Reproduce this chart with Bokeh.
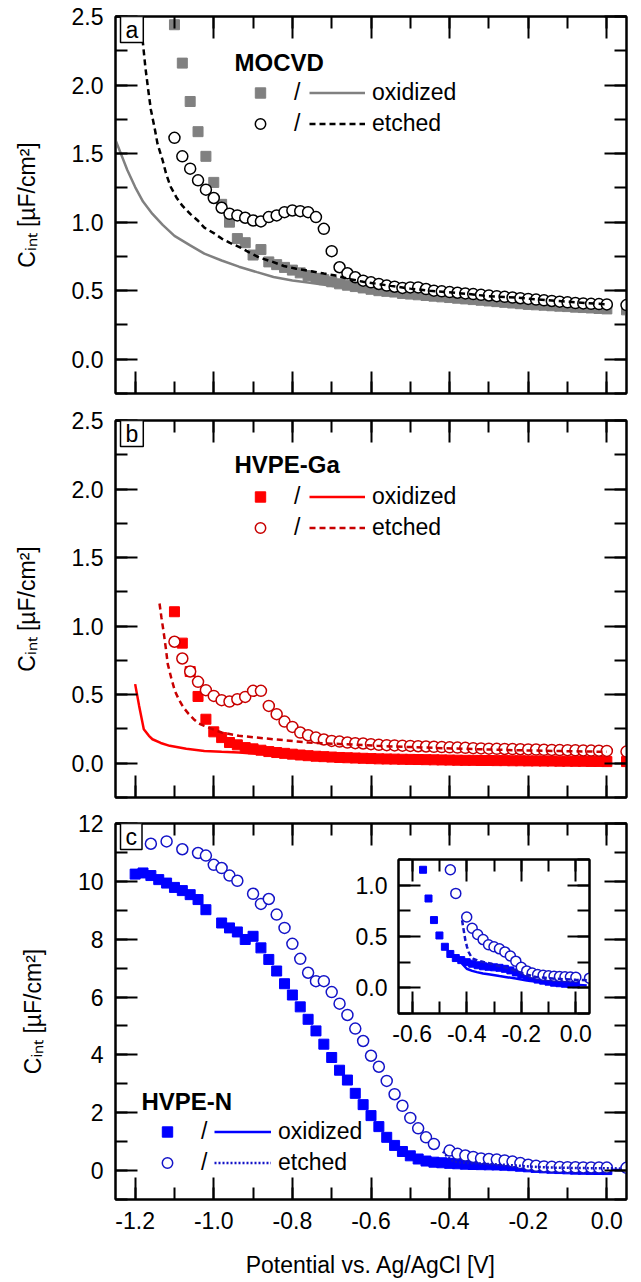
from bokeh.plotting import figure
from bokeh.layouts import column
from bokeh.models import (Range1d, LinearAxis, SingleIntervalTicker, NumeralTickFormatter,
                          Label, Legend, LegendItem)
from bokeh.core.properties import value
from bokeh.embed import file_html
from bokeh.resources import INLINE

FONT = "Liberation Sans"

# ---------------- data ----------------
XA = [-1.10, -1.08, -1.06, -1.04, -1.02, -1.00, -0.98, -0.96, -0.94, -0.92,
      -0.90, -0.88, -0.86, -0.84, -0.82, -0.80, -0.78, -0.76, -0.74, -0.72,
      -0.70, -0.68, -0.66, -0.64, -0.62, -0.60, -0.58, -0.56, -0.54, -0.52,
      -0.50, -0.48, -0.46, -0.44, -0.42, -0.40, -0.38, -0.36, -0.34, -0.32,
      -0.30, -0.28, -0.26, -0.24, -0.22, -0.20, -0.18, -0.16, -0.14, -0.12,
      -0.10, -0.08, -0.06, -0.04, -0.02, 0.00, 0.05]

# panel a (MOCVD)
SQ_A = [2.44, 2.16, 1.88, 1.66, 1.48, 1.29, 1.13, 1.00, 0.88, 0.85,
        0.76, 0.80, 0.71, 0.69, 0.67, 0.65, 0.63, 0.61, 0.59, 0.58,
        0.565, 0.55, 0.54, 0.53, 0.52, 0.51, 0.50, 0.495, 0.49, 0.48,
        0.475, 0.47, 0.465, 0.46, 0.455, 0.45, 0.445, 0.44, 0.435, 0.43,
        0.425, 0.42, 0.415, 0.41, 0.405, 0.40, 0.397, 0.394, 0.39, 0.387,
        0.384, 0.38, 0.377, 0.374, 0.37, 0.367, 0.36]
CI_A = [1.615, 1.48, 1.39, 1.305, 1.237, 1.176, 1.105, 1.061, 1.049, 1.032,
        1.012, 1.005, 1.037, 1.049, 1.073, 1.085, 1.08, 1.073, 1.037, 0.951,
        0.788, 0.671, 0.627, 0.598, 0.573, 0.561, 0.549, 0.537, 0.529, 0.52,
        0.524, 0.524, 0.512, 0.50, 0.495, 0.49, 0.485, 0.48, 0.475, 0.47,
        0.465, 0.46, 0.455, 0.45, 0.445, 0.44, 0.435, 0.43, 0.425, 0.42,
        0.415, 0.41, 0.407, 0.404, 0.402, 0.40, 0.395]
OXL_A_X = [-1.25, -1.22, -1.20, -1.18, -1.156, -1.13, -1.10, -1.06, -1.024, -0.98,
           -0.936, -0.89, -0.848, -0.80, -0.76, -0.70, -0.62, -0.55, -0.45, -0.35,
           -0.25, -0.15, -0.05, 0.0]
OXL_A_Y = [1.60, 1.38, 1.256, 1.15, 1.06, 0.98, 0.90, 0.83, 0.77, 0.72,
           0.675, 0.635, 0.60, 0.575, 0.56, 0.535, 0.51, 0.49, 0.46, 0.435,
           0.415, 0.395, 0.375, 0.366]
ETL_A_X = [-1.19, -1.18, -1.174, -1.167, -1.16, -1.15, -1.143, -1.13, -1.121, -1.11,
           -1.095, -1.08, -1.06, -1.04, -1.024, -1.0, -0.98, -0.96, -0.936, -0.91,
           -0.883, -0.85, -0.822, -0.79, -0.76, -0.72, -0.69, -0.655, -0.62, -0.585,
           -0.55, -0.50, -0.45, -0.41, -0.35, -0.30, -0.234, -0.15, -0.08, 0.0]
ETL_A_Y = [2.55, 2.30, 2.13, 1.97, 1.82, 1.68, 1.57, 1.45, 1.35, 1.26,
           1.18, 1.12, 1.06, 1.01, 0.96, 0.92, 0.88, 0.85, 0.82, 0.78,
           0.74, 0.71, 0.68, 0.66, 0.646, 0.625, 0.61, 0.585, 0.565, 0.55,
           0.535, 0.515, 0.50, 0.49, 0.475, 0.46, 0.45, 0.43, 0.415, 0.40]

# panel b (HVPE-Ga)
SQ_B = [1.105, 0.876, 0.669, 0.487, 0.321, 0.229, 0.187, 0.151, 0.134, 0.114,
        0.105, 0.095, 0.085, 0.078, 0.072, 0.066, 0.060, 0.055, 0.051, 0.048,
        0.045, 0.042, 0.040, 0.038, 0.036, 0.034, 0.032, 0.031, 0.030, 0.029,
        0.028, 0.027, 0.026, 0.025, 0.024, 0.023, 0.022, 0.021, 0.021, 0.020,
        0.020, 0.019, 0.019, 0.018, 0.018, 0.017, 0.017, 0.016, 0.016, 0.015,
        0.015, 0.014, 0.014, 0.013, 0.013, 0.012, 0.012]
CI_B = [0.886, 0.764, 0.669, 0.594, 0.533, 0.491, 0.46, 0.45, 0.467, 0.484,
        0.528, 0.528, 0.418, 0.358, 0.304, 0.265, 0.224, 0.204, 0.187, 0.173,
        0.163, 0.158, 0.151, 0.146, 0.144, 0.139, 0.134, 0.132, 0.130, 0.128,
        0.126, 0.124, 0.122, 0.120, 0.118, 0.116, 0.114, 0.112, 0.110, 0.108,
        0.106, 0.105, 0.104, 0.103, 0.102, 0.101, 0.100, 0.098, 0.097, 0.096,
        0.095, 0.094, 0.093, 0.092, 0.091, 0.090, 0.085]
OXL_B_X = [-1.20, -1.19, -1.178, -1.165, -1.156, -1.135, -1.112, -1.07, -1.024, -0.98,
           -0.936, -0.848, -0.76, -0.67, -0.55, -0.41, -0.25, -0.10, 0.0]
OXL_B_Y = [0.577, 0.42, 0.248, 0.20, 0.175, 0.148, 0.127, 0.105, 0.09, 0.083,
           0.078, 0.061, 0.05, 0.041, 0.032, 0.022, 0.016, 0.012, 0.01]
ETL_B_X = [-1.138, -1.133, -1.128, -1.122, -1.117, -1.108, -1.099, -1.088, -1.077, -1.064,
           -1.051, -1.038, -1.024, -1.0, -0.98, -0.936, -0.848, -0.76, -0.67, -0.585,
           -0.41, -0.234, 0.0]
ETL_B_Y = [1.165, 1.06, 0.966, 0.84, 0.723, 0.62, 0.528, 0.46, 0.406, 0.36,
           0.321, 0.29, 0.272, 0.245, 0.224, 0.20, 0.175, 0.151, 0.139, 0.127,
           0.109, 0.095, 0.083]

# panel c (HVPE-N)
XC_SQ = [-1.20, -1.18, -1.16, -1.14, -1.12, -1.10, -1.08, -1.06, -1.04, -1.02,
         -0.98, -0.96, -0.94, -0.92, -0.90, -0.88, -0.86, -0.84, -0.82, -0.80,
         -0.78, -0.76, -0.74, -0.72, -0.70, -0.68, -0.66, -0.64, -0.62, -0.60,
         -0.58, -0.56, -0.54, -0.52, -0.50, -0.48, -0.46, -0.44, -0.42, -0.40,
         -0.38, -0.36, -0.34, -0.32, -0.30, -0.28, -0.26, -0.24, -0.22, -0.20,
         -0.18, -0.16, -0.14, -0.12, -0.10, -0.08, -0.06, -0.04, -0.02, 0.00]
SQ_C = [10.25, 10.29, 10.20, 10.06, 9.94, 9.79, 9.68, 9.54, 9.37, 9.02,
        8.56, 8.39, 8.25, 7.99, 8.10, 7.70, 7.30, 6.90, 6.46, 6.07,
        5.66, 5.23, 4.83, 4.37, 3.91, 3.47, 3.13, 2.67, 2.28, 1.90,
        1.52, 1.15, 0.87, 0.66, 0.51, 0.40, 0.33, 0.29, 0.27, 0.25,
        0.235, 0.22, 0.21, 0.205, 0.20, 0.195, 0.185, 0.17, 0.15, 0.13,
        0.11, 0.095, 0.08, 0.07, 0.06, 0.05, 0.045, 0.04, 0.037, 0.035]
XC_CI = [-1.20, -1.16, -1.12, -1.08, -1.04, -1.02, -1.00, -0.98, -0.96, -0.94,
         -0.90, -0.88, -0.86, -0.84, -0.82, -0.80, -0.78, -0.76, -0.74, -0.72,
         -0.70, -0.68, -0.66, -0.64, -0.62, -0.60, -0.58, -0.56, -0.54, -0.52,
         -0.50, -0.48, -0.46, -0.44, -0.40, -0.38, -0.36, -0.34, -0.32, -0.30,
         -0.28, -0.26, -0.24, -0.22, -0.20, -0.18, -0.16, -0.14, -0.12, -0.10,
         -0.08, -0.06, -0.04, -0.02, 0.00, 0.05]
CI_C = [11.49, 11.30, 11.38, 11.11, 10.98, 10.89, 10.57, 10.46, 10.20, 10.02,
        9.57, 9.22, 9.39, 8.85, 8.39, 7.84, 7.32, 6.84, 6.55, 6.55,
        6.17, 5.77, 5.38, 4.91, 4.48, 3.97, 3.59, 3.10, 2.64, 2.24,
        1.82, 1.46, 1.15, 0.92, 0.69, 0.58, 0.52, 0.47, 0.42, 0.40,
        0.38, 0.35, 0.31, 0.26, 0.20, 0.165, 0.145, 0.13, 0.122, 0.118,
        0.114, 0.11, 0.107, 0.105, 0.103, 0.094]
OXL_C_X = [-0.436, -0.425, -0.417, -0.40, -0.38, -0.363, -0.34, -0.314, -0.28, -0.253,
           -0.22, -0.18, -0.14, -0.095, -0.05, 0.0, 0.04]
OXL_C_Y = [0.316, 0.27, 0.235, 0.186, 0.165, 0.153, 0.14, 0.13, 0.115, 0.104,
           0.09, 0.072, 0.058, 0.046, 0.037, 0.03, 0.023]
ETL_C_X = [-0.417, -0.414, -0.411, -0.405, -0.399, -0.393, -0.385, -0.375, -0.36, -0.338,
           -0.31, -0.29, -0.241, -0.192, -0.144, -0.07, 0.0, 0.04]
ETL_C_Y = [0.658, 0.61, 0.56, 0.463, 0.40, 0.349, 0.31, 0.283, 0.265, 0.251,
           0.235, 0.218, 0.186, 0.137, 0.104, 0.088, 0.078, 0.075]

X_TICK_STEP = 0.2
PANEL_NAMES = ["MOCVD", "HVPE-Ga", "HVPE-N"]
PANEL_LETTERS = ["a", "b", "c"]
SERIES_LABELS = ["oxidized", "etched"]
Y_TITLE = "C\u1d62\u2099\u209c [µF/cm²]"
X_TITLE = "Potential vs. Ag/AgCl [V]"

# ---------------- styling helpers ----------------
GRAY = "#808080"
RED = "#ff0000"
DRED = "#c80000"
BLUE = "#0000ff"
DBLUE = "#1414c8"


def style_axis(ax, interval, fmt, show_labels, standoff=12):
    ax.ticker = SingleIntervalTicker(interval=interval, num_minor_ticks=2)
    ax.formatter = NumeralTickFormatter(format=fmt)
    ax.axis_line_width = 2
    ax.axis_line_color = "black"
    ax.major_tick_in = 22
    ax.major_tick_out = 0
    ax.minor_tick_in = 12
    ax.minor_tick_out = 0
    ax.major_tick_line_width = 2
    ax.minor_tick_line_width = 2
    ax.major_tick_line_color = "black"
    ax.minor_tick_line_color = "black"
    ax.major_label_text_font = FONT
    if show_labels:
        ax.major_label_text_color = "black"
        ax.major_label_text_font_size = "23px"
        ax.major_label_standoff = standoff
    else:
        ax.major_label_text_color = None
        ax.major_label_text_font_size = "0px"
        ax.major_label_standoff = 0


def make_panel(height, top, bottom, yr, yint, yfmt, xlabels, xr):
    p = figure(width=641, height=height, x_range=xr, y_range=Range1d(*yr),
               output_backend="svg", toolbar_location=None,
               min_border_left=115, min_border_right=15,
               min_border_top=top, min_border_bottom=bottom,
               background_fill_color="white", border_fill_color="white")
    p.xgrid.visible = False
    p.ygrid.visible = False
    p.outline_line_color = "black"
    p.outline_line_width = 2
    bx = p.xaxis[0]
    ly = p.yaxis[0]
    style_axis(bx, X_TICK_STEP, "0.0", xlabels)
    style_axis(ly, yint, yfmt, True)
    ly.axis_label = Y_TITLE
    ly.axis_label_text_font = FONT
    ly.axis_label_text_font_size = "23px"
    ly.axis_label_text_font_style = "normal"
    ly.axis_label_text_color = "black"
    ly.axis_label_standoff = 29
    top_ax = LinearAxis()
    right_ax = LinearAxis()
    style_axis(top_ax, X_TICK_STEP, "0.0", False)
    style_axis(right_ax, yint, yfmt, False)
    p.add_layout(top_ax, "above")
    p.add_layout(right_ax, "right")
    return p, bx


def letter_box(p, letter, x0, y1):
    p.add_layout(Label(x=x0, y=y1, text=letter, text_font=FONT, text_font_size="23px",
                       text_align="left", text_baseline="top", x_offset=5, text_color="black",
                       border_line_color="black", border_line_width=1.5,
                       background_fill_color="white",
                       padding=dict(left=5, right=5, top=0, bottom=0)))


def legends(p, name, title_xy, sq, ci, lo, le, vx_mark, vx_line, vy, line_w):
    p.add_layout(Label(x=title_xy[0], y=title_xy[1], x_units="screen", y_units="screen",
                       text=name, text_font=FONT, text_font_size="24px",
                       text_font_style="bold", text_baseline="middle", text_color="black"))
    common = dict(orientation="vertical", padding=0, margin=0, spacing=4,
                  border_line_alpha=0, background_fill_alpha=0,
                  label_text_font=FONT, label_text_font_size="23px",
                  label_text_color="black", label_height=27, glyph_height=27)
    la = Legend(items=[LegendItem(label=value("/"), renderers=[sq]),
                       LegendItem(label=value("/"), renderers=[ci])],
                location=(vx_mark, vy), glyph_width=26, label_standoff=21, **common)
    lb = Legend(items=[LegendItem(label=value(SERIES_LABELS[0]), renderers=[lo]),
                       LegendItem(label=value(SERIES_LABELS[1]), renderers=[le])],
                location=(vx_line, vy), glyph_width=line_w, label_standoff=7, **common)
    p.add_layout(la)
    p.add_layout(lb)


XR = Range1d(-1.25, 0.05)

# ---------------- panel a ----------------
pa, _ = make_panel(406, 16, 13, (-0.25, 2.5), 0.5, "0.0", False, XR)
sq_a = pa.scatter(XA, SQ_A, marker="square", size=10, fill_color=GRAY, line_color=GRAY)
lo_a = pa.line(OXL_A_X, OXL_A_Y, line_color=GRAY, line_width=2.5)
ci_a = pa.scatter(XA, CI_A, marker="circle", size=11, fill_color="white",
                  line_color="black", line_width=1.5)
le_a = pa.line(ETL_A_X, ETL_A_Y, line_color="black", line_width=2.5, line_dash="6 4")
letter_box(pa, PANEL_LETTERS[0], -1.25, 2.5)
legends(pa, PANEL_NAMES[0], (119, 331), sq_a, ci_a, lo_a, le_a, 132, 194, 256.5, 56)

# ---------------- panel b ----------------
pb, _ = make_panel(404, 14, 13, (-0.25, 2.5), 0.5, "0.0", False, XR)
sq_b = pb.scatter(XA, SQ_B, marker="square", size=10, fill_color=RED, line_color=RED)
lo_b = pb.line(OXL_B_X, OXL_B_Y, line_color=RED, line_width=2.5)
ci_b = pb.scatter(XA, CI_B, marker="circle", size=11, fill_color="white",
                  line_color=DRED, line_width=1.5)
le_b = pb.line(ETL_B_X, ETL_B_Y, line_color=DRED, line_width=2.5, line_dash="6 4")
letter_box(pb, PANEL_LETTERS[1], -1.25, 2.5)
legends(pb, PANEL_NAMES[1], (119, 333), sq_b, ci_b, lo_b, le_b, 132, 194, 256.5, 56)

# ---------------- panel c ----------------
pc, bxc = make_panel(472, 13, 83, (-1, 12), 2, "0", True, XR)
bxc.axis_label = X_TITLE
bxc.axis_label_text_font = FONT
bxc.axis_label_text_font_size = "23px"
bxc.axis_label_text_font_style = "normal"
bxc.axis_label_text_color = "black"
bxc.axis_label_standoff = 20
sq_c = pc.scatter(XC_SQ, SQ_C, marker="square", size=10, fill_color=BLUE, line_color=BLUE)
lo_c = pc.line(OXL_C_X, OXL_C_Y, line_color=BLUE, line_width=2.5)
ci_c = pc.scatter(XC_CI, CI_C, marker="circle", size=11, fill_color="white",
                  line_color=DBLUE, line_width=1.5)
le_c = pc.line(ETL_C_X, ETL_C_Y, line_color=DBLUE, line_width=2.5, line_dash="2 2")
letter_box(pc, PANEL_LETTERS[2], -1.25, 12)
legends(pc, PANEL_NAMES[2], (26, 98), sq_c, ci_c, lo_c, le_c, 39, 99, 23.5, 57)

# ---------------- inset ----------------
pi = figure(width=321, height=204, x_range=Range1d(-0.65, 0.05), y_range=Range1d(-0.25, 1.25),
            output_backend="svg", toolbar_location=None,
            min_border_left=115, min_border_right=15, min_border_top=7, min_border_bottom=43,
            background_fill_color="white", border_fill_alpha=0,
            margin=(-430, 0, 226, 283))
pi.xgrid.visible = False
pi.ygrid.visible = False
pi.outline_line_color = "black"
pi.outline_line_width = 2
style_axis(pi.xaxis[0], X_TICK_STEP, "0.0", True, standoff=11)
style_axis(pi.yaxis[0], 0.5, "0.0", True, standoff=11)
ita = LinearAxis()
ira = LinearAxis()
style_axis(ita, X_TICK_STEP, "0.0", False)
style_axis(ira, 0.5, "0.0", False)
pi.add_layout(ita, "above")
pi.add_layout(ira, "right")
pi.scatter(XC_SQ, SQ_C, marker="square", size=7, fill_color=BLUE, line_color=BLUE)
pi.line(OXL_C_X, OXL_C_Y, line_color=BLUE, line_width=2.5)
pi.scatter(XC_CI, CI_C, marker="circle", size=10, fill_color="white",
           line_color=DBLUE, line_width=1.5)
pi.line(ETL_C_X, ETL_C_Y, line_color=DBLUE, line_width=2.5, line_dash="5 3")

layout = column(pa, pb, pc, pi, spacing=0)
open("out.html", "w").write(file_html(layout, INLINE))
